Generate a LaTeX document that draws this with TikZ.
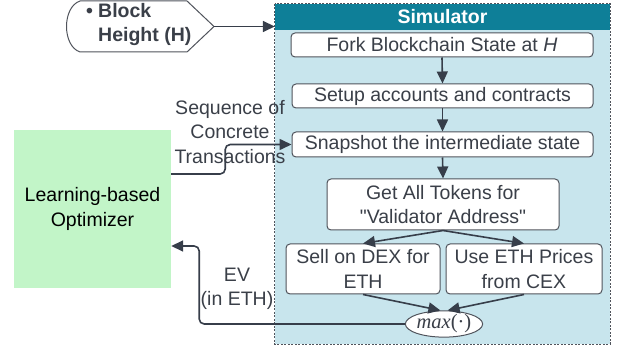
\documentclass[tikz,border=0pt]{standalone}
\usepackage{fontspec}
\setmainfont{Liberation Sans}
\newfontfamily\maxfont{Liberation Serif}
\usetikzlibrary{arrows.meta,shapes.geometric,calc}

\begin{document}
\begin{tikzpicture}[x=1pt,y=-1pt,
    every node/.style={font=\fontsize{19.5}{24.5}\selectfont, text=textcolor},
    stepbox/.style={draw=boxline, line width=1pt, rounded corners=4pt, fill=white,
        inner sep=0pt, align=center},
    flow/.style={draw=linecolor, line width=1.6pt, -{Triangle[length=12pt,width=11pt]}},
]
    % -- colour definitions --------------------------------------------------
    \definecolor{textcolor}{RGB}{58,63,72}
    \definecolor{linecolor}{RGB}{55,62,74}
    \definecolor{boxline}{RGB}{80,84,92}
    \definecolor{headcolor}{RGB}{14,127,152}
    \definecolor{simcolor}{RGB}{200,229,237}
    \definecolor{optcolor}{RGB}{194,245,200}

    \useasboundingbox (0,0) rectangle (618,352);

    % -- simulator frame -----------------------------------------------------
    \node[fill=simcolor, minimum width=335, minimum height=340, inner sep=0] (sim) at (442.5,174) {};
    \node[fill=headcolor, minimum width=335, minimum height=26, inner sep=0, anchor=north,
          text=white, font=\fontsize{19.5}{24.5}\selectfont\bfseries] (simhead) at (sim.north) {Simulator};
    \draw[dash pattern=on 2pt off 1.5pt, boxline, line width=0.8pt]
        (sim.north west) rectangle (sim.south east);

    % -- simulator steps -----------------------------------------------------
    \node[stepbox, minimum width=302, minimum height=24] (fork) at (442,45) {Fork Blockchain State at \textit{H}};
    \node[stepbox, minimum width=301, minimum height=24] (setup) at (442.5,96) {Setup accounts and contracts};
    \node[stepbox, minimum width=301, minimum height=25] (snap) at (442.5,144.5) {Snapshot the intermediate state};
    \node[stepbox, minimum width=232, minimum height=51] (tokens) at (443,204.5)
        {Get All Tokens for\\\textquotedbl Validator Address\textquotedbl};
    \node[stepbox, minimum width=154, minimum height=50] (dex) at (363,269) {Sell on DEX for\\ETH};
    \node[stepbox, minimum width=156, minimum height=50] (cex) at (524,269) {Use ETH Prices\\from CEX};
    \node[ellipse, draw=boxline, line width=1pt, fill=white, minimum width=64, minimum height=21,
          inner sep=0, font=\fontsize{20.5}{20}\maxfont] (max) at (444,324) {\textit{max}(·)};

    % -- optimizer -----------------------------------------------------------
    \node[fill=optcolor, minimum width=157, minimum height=158, inner sep=0, align=center,
          text=black] (opt) at (92.5,209) {Learning-based\\Optimizer};

    % -- block height input --------------------------------------------------
    \draw[boxline, line width=1pt, fill=white]
        (80,1) -- (187,1) -- (214,26.5) -- (187,52) -- (80,52)
        .. controls (62,46) and (62,7) .. (80,1) -- cycle;
    \coordinate (bhtip) at (214,26.5);
    \node[anchor=west, align=left, inner sep=0, font=\fontsize{19.5}{24}\selectfont\bfseries]
        (bh) at (86,25) {\makebox[12pt][l]{\textbullet}Block\\\hspace*{12pt}Height (H)};

    % -- connectors ----------------------------------------------------------
    \draw[flow] (bhtip) -- (bhtip -| sim.west);
    \foreach \a/\b in {fork/setup, setup/snap, snap/tokens} {
        \draw[flow] (\a.south) -- (\b.north);
    }
    \draw[flow] (tokens.south) -- (dex.north);
    \draw[flow] (tokens.south) -- (cex.north);
    \draw[flow] (dex.south) -- (max.105);
    \draw[flow] (cex.south) -- (max.75);
    \draw[flow, rounded corners=5pt] ([yshift=35pt]opt.east) -- ++(54,0) |- (snap.west);
    \draw[flow, rounded corners=5pt] (max.west) -| ($(opt.east)+(28,37)$) -- ([yshift=-37pt]opt.east);

    % -- connector labels ----------------------------------------------------
    \node[align=center, inner sep=0] (seqlbl) at (230,132) {Sequence of\\Concrete\\Transactions};
    \node[align=center, inner sep=0] (evlbl) at (237,289) {EV\\(in ETH)};
\end{tikzpicture}
\end{document}
